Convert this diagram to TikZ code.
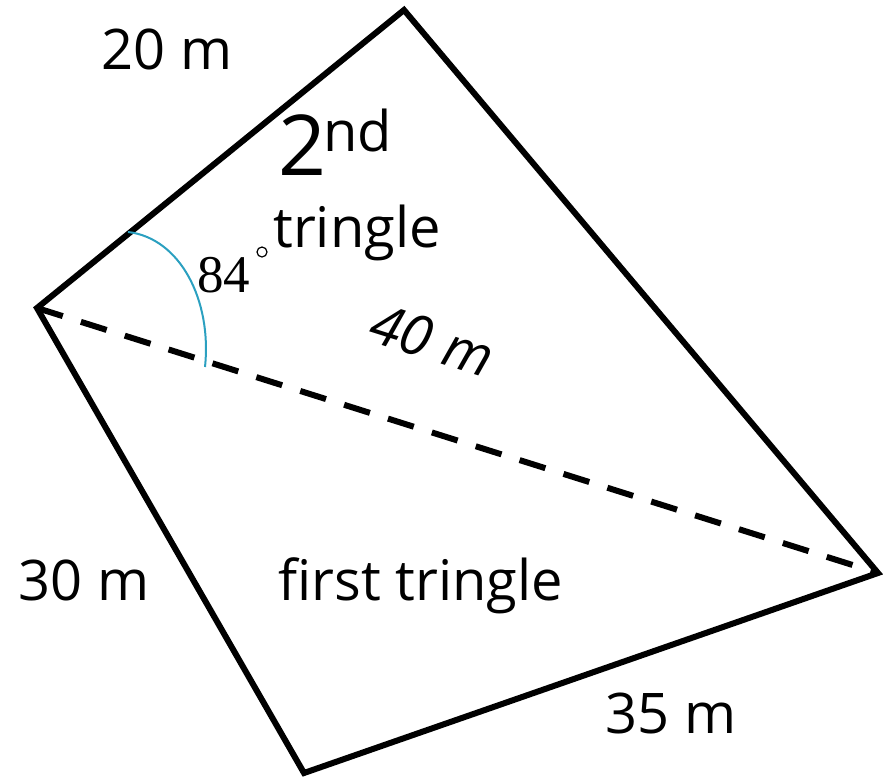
\documentclass[tikz,border=0pt]{standalone}
\usepackage{fontspec}
\setmainfont{Open Sans}
\newfontfamily\seriffont{Liberation Serif}
\begin{document}
\begin{tikzpicture}[x=1pt,y=-1pt,
  edge/.style={line width=6pt, line join=miter},
  diag/.style={line width=6pt, dash pattern=on 27pt off 19pt},
  anglearc/.style={line width=2pt, draw={rgb,255:red,43;green,160;blue,192}},
  lbl/.style={font=\fontsize{56}{60}\selectfont, inner sep=0pt, anchor=base}]
\useasboundingbox (0,0) rectangle (883,777);
\coordinate (T) at (404,10);
\coordinate (L) at (37,308);
\coordinate (B) at (304,773);
\coordinate (R) at (878,573);
\coordinate (A1) at (128,232);
\coordinate (A2) at (205,367);
\draw[edge] (T) -- (L) -- (B) -- (R) -- cycle;
\draw[diag] (L) -- (R);
\draw[anglearc] (A1) .. controls (180,238) and (212,300) .. (A2);
\node[lbl] (l20) at (167,69) {20 m};
\node[lbl] (l30) at (84,600) {30 m};
\node[lbl] (l35) at (671,733) {35 m};
\node[lbl] (first) at (421,600) {first tringle};
\node[lbl] (second) at (357,247) {tringle};
\node[lbl, anchor=base west, font=\fontsize{84}{90}\selectfont] (two) at (278,175) {2};
\node[lbl, anchor=base west] (nd) at (323,151) {nd};
\node[lbl, rotate=-17.5, font=\fontsize{56}{60}\selectfont\itshape, anchor=center] (l40) at (432,340) {40 m};
\node[lbl, anchor=base west, font=\fontsize{53}{56}\selectfont\seriffont] (ang) at (197,292) {84};
\node[inner sep=0pt, draw, circle, minimum size=10pt, line width=1.2pt] (deg) at (262,252) {};
\end{tikzpicture}
\end{document}
